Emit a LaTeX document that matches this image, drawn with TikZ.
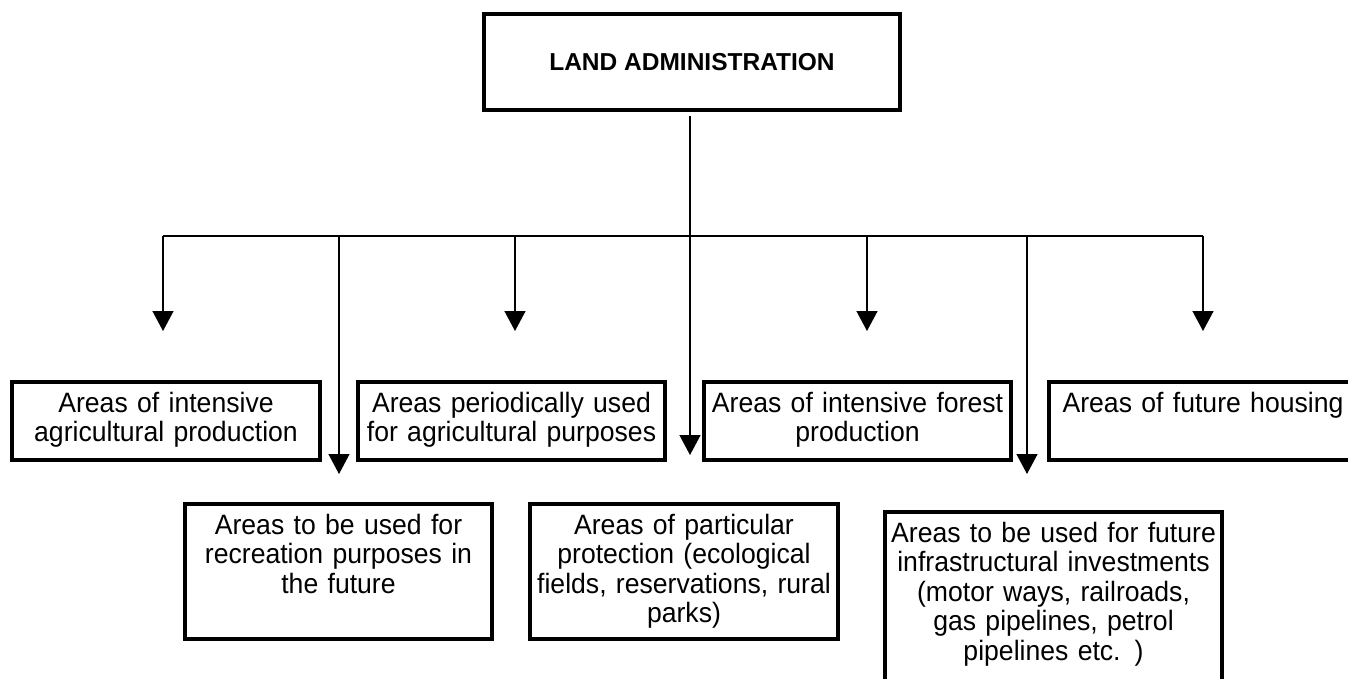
\documentclass[tikz,border=0pt]{standalone}
\usepackage{fontspec}
\setmainfont{Liberation Sans}
\newfontfamily\narrowsans[FakeStretch=0.95]{Liberation Sans}
\usetikzlibrary{arrows.meta}
\begin{document}
\begin{tikzpicture}[x=1pt,y=-1pt]
\tikzstyle{every node}+=[inner sep=0pt]
\tikzstyle{area}=[draw, line width=4.2pt, inner xsep=6pt, align=center, anchor=north, font=\narrowsans\fontsize{28}{29.5}\selectfont, text height=30pt]
\tikzstyle{wire}=[black, line width=1.4pt]
\tikzstyle{drop}=[wire, -{Triangle[width=21pt,length=20pt]}]
\useasboundingbox (0,0) rectangle (1348,679);
\clip (0,0) rectangle (1348,679);
\node [draw, line width=4.2pt, minimum width=416pt, minimum height=96pt, font=\bfseries\fontsize{24.5}{28}\selectfont] (land) at (692,62) {LAND ADMINISTRATION};
\node [area, minimum width=308pt, text width=296pt, text depth=48pt] (agri) at (166,380) {Areas of intensive\\agricultural production};
\node [area, minimum width=307pt, text width=295pt, text depth=48pt] (period) at (511.5,380) {Areas periodically used\\for agricultural purposes};
\node [area, minimum width=307pt, text width=295pt, text depth=48pt] (forest) at (857.5,380) {Areas of intensive forest\\production};
\node [area, minimum width=308pt, text width=296pt, text depth=48pt] (housing) at (1203,380) {Areas of future housing};
\node [area, minimum width=307pt, text width=295pt, text depth=105pt] (recreation) at (338.5,502) {Areas to be used for\\recreation purposes in\\the future};
\node [area, minimum width=308pt, text width=296pt, text depth=105pt] (protection) at (684,502) {Areas of particular\\protection (ecological\\fields, reservations, rural\\parks)};
\node [area, minimum width=337pt, text width=325pt, text depth=151pt] (infra) at (1053.5,510) {Areas to be used for future\\infrastructural investments\\ (motor ways, railroads,\\gas pipelines, petrol\\pipelines etc. )};
\foreach \n/\x/\y in {1/163/331, 2/339/474, 3/515/331, 4/690/455, 5/867/331, 6/1027/474, 7/1203/331} {
  \coordinate (b\n) at (\x,236);
  \coordinate (t\n) at (\x,\y);
  \draw [drop] (b\n) -- (t\n);
}
\draw [wire] (b1) -- (b7);
\draw [wire, shorten <=4pt] (land.south -| b4) -- (b4);
\end{tikzpicture}
\end{document}
